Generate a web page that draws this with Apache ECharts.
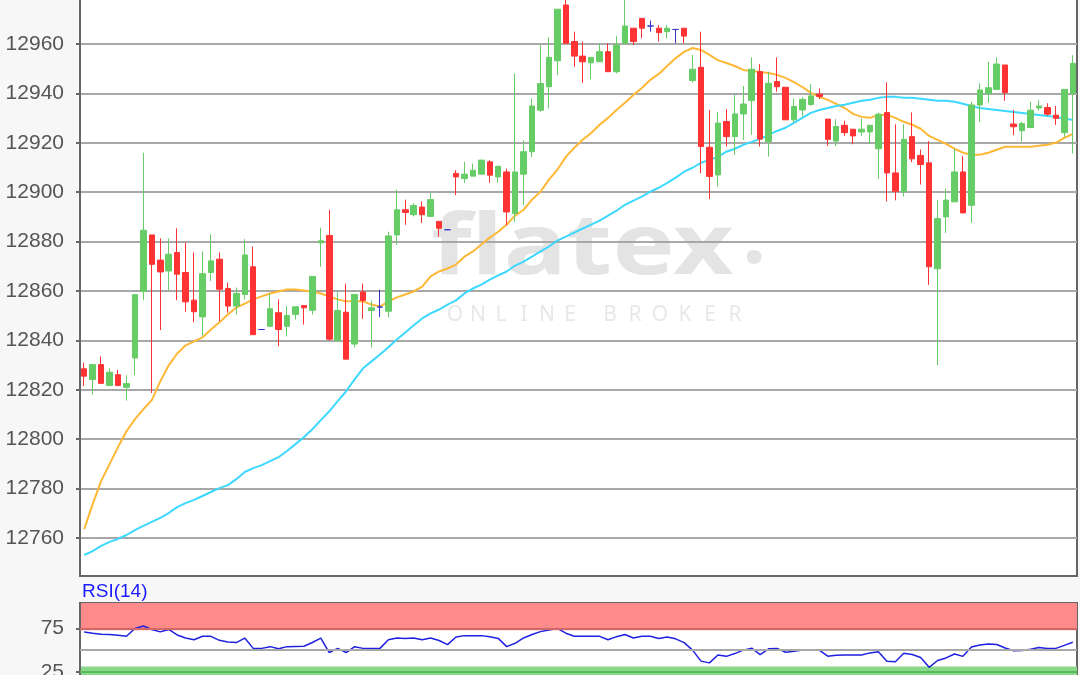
<!DOCTYPE html>
<html><head><meta charset="utf-8">
<script src="https://cdn.jsdelivr.net/npm/echarts@6/dist/echarts.min.js"></script>
<style>html,body{margin:0;padding:0;background:#f7f7f7;}#c{width:1080px;height:675px;}</style>
</head><body><div id="c"></div>
<script>
const opens = [12828.5,12824.1,12830.2,12821.7,12826.1,12821.0,12832.9,12859.8,12882.7,12872.5,
12868.1,12875.6,12867.5,12856.3,12849.5,12867.5,12872.9,12861.0,12853.9,12858.6,
12869.8,12844.4,12845.7,12851.2,12845.7,12850.5,12854.1,12852.2,12879.5,12882.5,
12839.9,12851.4,12838.5,12859.6,12852.1,12853.5,12851.8,12882.7,12892.9,12890.9,
12894.0,12890.2,12888.2,12884.8,12907.6,12905.5,12906.5,12907.3,12912.3,12906.2,
12908.2,12891.4,12907.3,12916.4,12933.2,12942.7,12953.2,12975.8,12961.0,12955.1,
12952.4,12952.8,12956.9,12948.8,12960.3,12966.4,12970.4,12967.3,12966.4,12965.0,
12965.9,12966.4,12945.2,12950.6,12918.2,12907.0,12928.6,12922.5,12931.7,12937.1,
12948.8,12920.5,12944.8,12942.5,12929.3,12933.3,12935.5,12939.7,12929.6,12920.7,
12927.1,12925.5,12924.4,12924.4,12917.6,12932.3,12907.8,12900.4,12922.5,12914.9,
12911.9,12869.0,12890.0,12896.1,12908.2,12894.7,12935.3,12940.0,12941.6,12951.5,
12927.6,12924.9,12926.2,12934.1,12934.3,12931.2,12924.1,12940.0];
const closes = [12825.5,12830.2,12822.6,12827.1,12821.7,12822.5,12858.5,12884.6,12870.8,12867.7,
12874.9,12866.8,12855.6,12851.6,12867.0,12872.2,12860.7,12853.9,12859.0,12874.6,
12842.3,12844.4,12852.8,12844.4,12850.1,12853.6,12853.2,12865.9,12880.3,12840.5,
12852.1,12832.4,12858.6,12856.2,12853.2,12853.5,12882.3,12892.9,12891.8,12894.6,
12890.9,12897.0,12885.4,12884.8,12906.2,12907.3,12908.9,12913.0,12906.9,12910.5,
12892.0,12908.2,12916.4,12934.9,12944.0,12954.6,12974.1,12960.3,12955.1,12952.8,
12954.6,12956.9,12948.8,12959.6,12967.3,12961.0,12966.4,12967.3,12964.6,12966.4,
12965.9,12963.2,12949.8,12918.5,12906.4,12928.0,12922.5,12931.7,12935.7,12949.8,
12921.5,12944.1,12942.7,12929.3,12934.7,12937.6,12939.0,12938.8,12921.4,12926.6,
12924.1,12922.8,12925.5,12927.1,12931.6,12907.8,12900.4,12921.4,12913.5,12911.2,
12869.8,12889.3,12896.8,12908.2,12891.6,12935.3,12941.4,12942.3,12951.9,12940.3,
12926.5,12927.8,12933.2,12934.9,12931.6,12929.9,12941.6,12952.2];
const lows = [12821.5,12818.1,12822.6,12821.7,12821.7,12815.6,12825.9,12856.3,12818.7,12844.2,
12860.3,12856.3,12851.6,12847.3,12842.0,12864.0,12847.8,12851.2,12850.5,12856.6,
12842.3,12844.4,12845.7,12837.6,12841.6,12848.4,12846.4,12850.5,12869.8,12839.9,
12839.9,12832.4,12837.1,12848.7,12837.1,12849.4,12849.4,12878.6,12886.8,12890.2,
12887.5,12890.2,12882.0,12884.8,12898.8,12903.8,12906.5,12907.3,12903.8,12903.8,
12886.6,12888.0,12894.7,12914.3,12932.6,12933.9,12947.4,12960.3,12950.8,12944.3,
12945.7,12952.8,12948.8,12948.1,12960.3,12959.6,12962.3,12965.0,12961.0,12962.3,
12960.3,12960.3,12944.4,12907.7,12897.2,12902.3,12918.5,12915.1,12921.2,12923.2,
12918.5,12914.4,12940.7,12929.3,12928.0,12930.6,12935.0,12937.7,12918.7,12918.7,
12922.8,12919.4,12922.8,12919.4,12905.4,12896.3,12896.7,12898.3,12912.2,12903.1,
12862.4,12829.9,12883.5,12896.1,12891.6,12887.6,12928.5,12936.2,12941.6,12937.0,
12923.1,12920.4,12926.2,12933.0,12931.0,12927.2,12922.4,12915.7];
const highs = [12831.0,12830.5,12833.5,12828.7,12828.0,12825.9,12858.5,12916.0,12882.7,12881.3,
12881.3,12885.4,12879.6,12875.6,12876.0,12883.0,12875.6,12863.4,12861.4,12881.0,
12878.0,12844.4,12858.9,12856.6,12853.9,12853.6,12854.1,12865.9,12885.6,12892.9,
12859.6,12863.0,12858.6,12863.0,12856.2,12860.5,12884.0,12901.0,12897.0,12895.6,
12896.3,12899.7,12888.2,12884.8,12908.9,12912.3,12911.6,12913.0,12913.0,12910.5,
12909.6,12948.1,12921.0,12938.0,12959.6,12962.7,12974.1,12980.0,12965.0,12961.0,
12954.6,12960.3,12960.3,12963.2,12985.0,12966.4,12970.4,12969.5,12967.7,12967.7,
12966.0,12966.4,12955.6,12965.0,12933.3,12932.6,12933.6,12939.4,12943.0,12954.6,
12951.9,12948.8,12954.6,12942.5,12938.0,12938.5,12943.8,12942.0,12929.6,12929.6,
12928.9,12925.5,12929.8,12927.1,12932.3,12944.5,12927.5,12927.5,12932.3,12917.3,
12920.7,12896.8,12901.5,12917.7,12914.6,12936.6,12944.1,12952.8,12954.6,12951.5,
12933.2,12928.5,12936.6,12937.3,12936.0,12934.9,12941.6,12955.5];
const maFast = [12763.6,12773.7,12783.0,12789.9,12796.8,12803.2,12808.1,12812.1,12815.8,12823.4,
12829.9,12834.7,12838.0,12839.6,12841.2,12844.4,12847.3,12850.5,12853.3,12854.9,
12856.6,12857.8,12859.0,12859.8,12860.6,12860.6,12860.2,12859.8,12859.0,12857.8,
12856.6,12855.8,12855.8,12855.8,12854.5,12853.7,12855.8,12857.4,12858.6,12859.8,
12861.8,12865.9,12867.9,12869.1,12870.7,12873.9,12876.0,12878.8,12881.6,12884.0,
12886.9,12890.5,12892.9,12897.0,12900.2,12905.1,12909.1,12914.3,12918.0,12921.2,
12924.0,12927.3,12930.1,12933.3,12936.2,12939.4,12942.2,12945.5,12947.9,12951.1,
12954.3,12956.8,12958.4,12957.6,12955.6,12953.5,12952.3,12951.1,12949.5,12949.1,
12948.7,12948.3,12947.5,12946.3,12944.6,12942.6,12940.2,12938.6,12937.4,12935.8,
12934.1,12931.7,12930.5,12930.1,12931.3,12931.3,12930.1,12928.5,12927.3,12925.7,
12922.8,12921.2,12919.6,12917.6,12916.0,12915.2,12915.2,12916.0,12917.2,12918.4,
12918.4,12918.4,12918.4,12918.8,12919.2,12920.0,12922.0,12923.6];
const maSlow = [12753.1,12754.7,12756.8,12758.4,12759.6,12761.2,12763.2,12764.9,12766.5,12768.1,
12770.1,12772.5,12774.1,12775.4,12777.0,12778.6,12780.2,12781.4,12783.8,12786.7,
12788.3,12789.5,12791.1,12792.7,12795.2,12798.0,12800.8,12804.0,12807.7,12811.3,
12815.4,12819.4,12824.2,12828.7,12831.5,12834.3,12837.2,12840.4,12843.2,12846.1,
12848.9,12850.9,12852.5,12854.5,12856.2,12859.0,12861.0,12862.6,12864.6,12866.3,
12867.9,12870.3,12871.9,12873.9,12876.0,12878.0,12880.4,12882.0,12883.6,12885.3,
12886.9,12888.5,12890.5,12892.5,12894.9,12896.6,12898.2,12900.2,12901.8,12903.8,
12905.9,12908.3,12909.9,12911.9,12913.1,12914.3,12916.4,12917.6,12919.2,12920.4,
12921.6,12923.2,12924.8,12926.1,12928.1,12930.1,12932.1,12933.3,12934.1,12934.9,
12935.4,12936.2,12937.0,12937.4,12938.2,12938.6,12938.6,12938.2,12938.2,12937.8,
12937.4,12937.0,12937.0,12936.6,12935.8,12934.9,12934.1,12933.7,12933.3,12932.9,
12932.5,12932.1,12931.7,12931.3,12930.9,12930.5,12929.7,12929.3];
const rsi = [71.0,69.5,68.3,68.0,67.0,65.9,75.0,77.8,73.8,71.0,
73.8,67.5,64.0,62.0,65.9,65.9,61.3,59.3,58.7,63.9,
52.0,52.0,54.0,51.5,54.0,54.2,54.4,58.8,63.9,47.2,
52.0,47.2,54.0,52.0,52.0,52.0,61.9,63.9,63.5,63.9,
61.9,63.9,61.1,56.3,65.1,66.7,66.7,66.7,65.5,63.5,
54.0,57.9,64.0,68.0,71.3,73.3,75.0,69.5,65.9,65.9,
65.9,65.9,61.9,65.5,68.0,63.9,65.9,65.9,63.5,65.1,
63.0,58.7,50.0,37.3,35.3,44.4,42.8,46.0,50.0,52.2,
44.8,51.5,52.0,47.5,48.8,50.0,50.0,50.0,43.0,44.0,
44.4,44.4,44.4,46.8,48.0,37.3,36.5,46.5,45.0,41.5,
30.2,38.0,41.0,45.5,42.8,53.5,55.8,57.0,56.5,52.5,
49.2,49.5,51.0,53.0,52.0,52.0,55.5,59.1];
const priceTickValues = [12760, 12780, 12800, 12820, 12840, 12860, 12880, 12900, 12920, 12940, 12960, 12980];
const rsiTickValues = [25, 75];
const rsiTitle = 'RSI(14)';
const brandWord = 'flatex';
const brandDot = '·';
const brandSub = ['ONLINE', 'BROKER'];

const categories = opens.map((_, i) => String(i + 1));
const ohlc = opens.map((o, i) => [o, closes[i], lows[i], highs[i]]);

const chart = echarts.init(document.getElementById('c'), null, {renderer: 'canvas'});
const labelFont = {color: '#555', fontSize: 21, fontFamily: 'Liberation Sans, Arial, sans-serif', formatter: v => String(v)};

const subLetters = [];
brandSub.forEach((word, w) => {
  const start = w === 0 ? 455 : 610;
  const pitch = w === 0 ? 23 : 25;
  word.split('').forEach((ch, j) => {
    subLetters.push({type: 'text', z: 0, silent: true, x: start + j * pitch, y: 315,
      style: {text: ch, fill: '#e8e8e8', font: '21px "Noto Sans"', align: 'center', verticalAlign: 'middle'}});
  });
});

chart.setOption({
  backgroundColor: '#f7f7f7',
  animation: false,
  grid: [
    {left: 80, right: 3, top: -36, bottom: 99, show: true, backgroundColor: '#fff', borderColor: '#666', borderWidth: 2, outerBoundsMode: 'none', containLabel: false},
    {left: 80, right: 3, top: 603, bottom: -18.5, show: true, backgroundColor: '#fff', borderColor: '#666', borderWidth: 2, outerBoundsMode: 'none', containLabel: false}
  ],
  xAxis: [
    {type: 'category', gridIndex: 0, data: categories, boundaryGap: true, z: 1,
     axisLine: {show: true, lineStyle: {color: '#666', width: 2}}, axisTick: {show: false}, axisLabel: {show: false}, splitLine: {show: false}},
    {type: 'category', gridIndex: 1, data: categories, boundaryGap: true, z: 1,
     axisLine: {show: true, lineStyle: {color: '#666', width: 2}}, axisTick: {show: false}, axisLabel: {show: false}, splitLine: {show: false}}
  ],
  yAxis: [
    {type: 'value', gridIndex: 0, min: 12744.6, max: 12992.4, splitNumber: 12, z: 1,
     axisLine: {show: true, lineStyle: {color: '#666', width: 2}},
     axisTick: {show: true, length: 4, customValues: priceTickValues, lineStyle: {color: '#666', width: 2}},
     axisLabel: Object.assign({margin: 16, customValues: priceTickValues}, labelFont),
     splitLine: {show: true, lineStyle: {color: '#a8a8a8', width: 2}}},
    {type: 'value', gridIndex: 1, min: 0, max: 104.3, interval: 25, z: 1,
     axisLine: {show: true, lineStyle: {color: '#666', width: 2}},
     axisTick: {show: true, length: 4, customValues: rsiTickValues, lineStyle: {color: '#666', width: 2}},
     axisLabel: Object.assign({margin: 16, customValues: rsiTickValues}, labelFont),
     splitLine: {show: false}}
  ],
  graphic: [
    {type: 'text', z: 0, silent: true, x: 431, y: 250, scaleX: 1.25,
     style: {text: brandWord, fill: '#e4e4e4', font: 'bold 84px "Noto Sans"', align: 'left', verticalAlign: 'middle'}},
    {type: 'text', z: 0, silent: true, x: 754, y: 263,
     style: {text: brandDot, fill: '#e4e4e4', font: 'bold 84px "Noto Sans"', align: 'center', verticalAlign: 'middle'}},
    ...subLetters,
    {type: 'text', z: 5, silent: true, x: 82, y: 592,
     style: {text: rsiTitle, fill: '#1a1aff', font: '19px "Liberation Sans", Arial, sans-serif', align: 'left', verticalAlign: 'middle'}}
  ],
  series: [
    {type: 'line', name: 'MA fast', xAxisIndex: 0, yAxisIndex: 0, data: maFast, z: 2, showSymbol: false, silent: true,
     lineStyle: {color: '#ffb836', width: 2}},
    {type: 'line', name: 'MA slow', xAxisIndex: 0, yAxisIndex: 0, data: maSlow, z: 2, showSymbol: false, silent: true,
     lineStyle: {color: '#3dd8ff', width: 2}},
    {type: 'candlestick', xAxisIndex: 0, yAxisIndex: 0, data: ohlc, z: 3, barWidth: 6, silent: true,
     itemStyle: {color: '#66cc66', color0: '#ff3333', borderColor: '#66cc66', borderColor0: '#ff3333', borderColorDoji: '#3333cc', borderWidth: 1}},
    {type: 'line', name: 'RSI', xAxisIndex: 1, yAxisIndex: 1, data: rsi, z: 3, showSymbol: false, silent: true,
     lineStyle: {color: '#2020e0', width: 1.5},
     markArea: {silent: true, data: [
       [{yAxis: 73, itemStyle: {color: '#ff8a8a'}}, {yAxis: 104.3}],
       [{yAxis: 0, itemStyle: {color: '#8ad88a'}}, {yAxis: 31}]
     ]},
     markLine: {silent: true, symbol: 'none', label: {show: false}, data: [
       {yAxis: 75, lineStyle: {color: '#d06868', width: 2, type: 'solid'}},
       {yAxis: 50, lineStyle: {color: '#a8a8a8', width: 2, type: 'solid'}},
       {yAxis: 25, lineStyle: {color: '#5cb85c', width: 2, type: 'solid'}}
     ]}}
  ]
});

// The top tick label sits partly above the canvas; ECharts drops it, so draw it at the axis position.
const topTick = priceTickValues[priceTickValues.length - 1];
const topY = chart.convertToPixel({yAxisIndex: 0}, topTick);
chart.setOption({graphic: [{type: 'text', id: 'topTick', z: 5, silent: true, x: 64, y: topY,
  style: {text: String(topTick), fill: '#555', font: '21px "Liberation Sans", Arial, sans-serif', align: 'right', verticalAlign: 'middle'}}]});
</script></body></html>
